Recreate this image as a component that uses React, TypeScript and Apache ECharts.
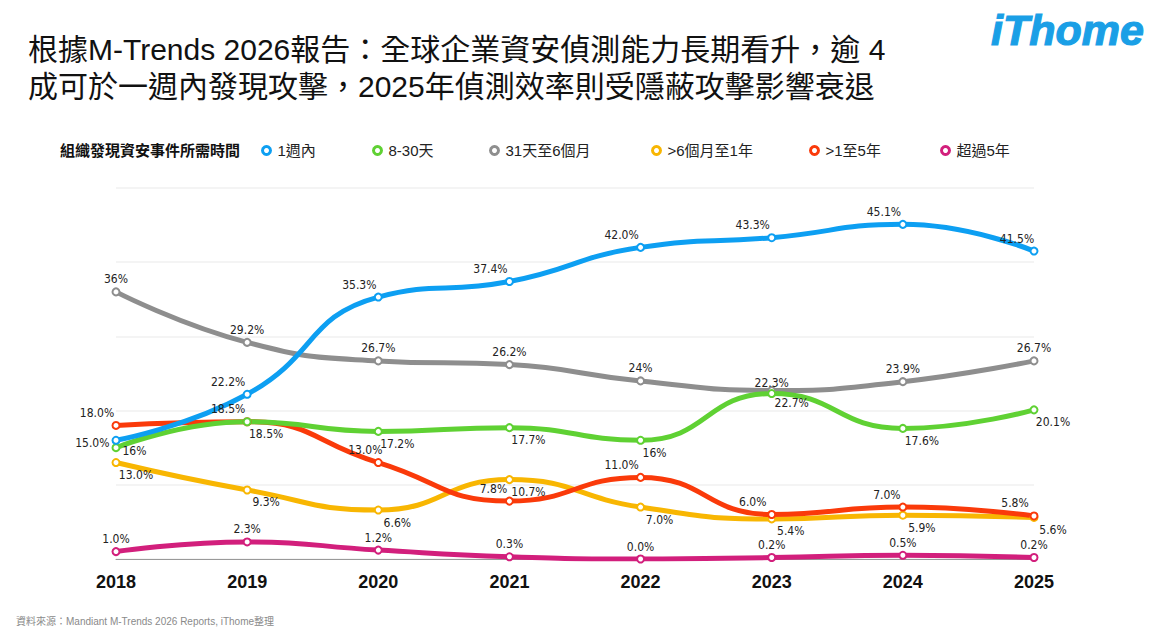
import React, { useEffect, useRef } from "react";
import * as echarts from "echarts";

const years = ["2018", "2019", "2020", "2021", "2022", "2023", "2024", "2025"];

// values as printed in the reference labels
const withinWeek = ["16", "22.2", "35.3", "37.4", "42.0", "43.3", "45.1", "41.5"];
const days8to30 = ["15.0", "18.5", "17.2", "17.7", "16", "22.3", "17.6", "20.1"];
const days31to6m = ["36", "29.2", "26.7", "26.2", "24", "22.7", "23.9", "26.7"];
const months6to1y = ["13.0", "9.3", "6.6", "10.7", "7.0", "5.4", "5.9", "5.6"];
const years1to5 = ["18.0", "18.5", "13.0", "7.8", "11.0", "6.0", "7.0", "5.8"];
const over5y = ["1.0", "2.3", "1.2", "0.3", "0.0", "0.2", "0.5", "0.2"];

const seriesNames = ["1週內", "8-30天", "31天至6個月", ">6個月至1年", ">1至5年", "超過5年"];

const titleText =
  "根據M-Trends 2026報告：全球企業資安偵測能力長期看升，逾 4\n成可於一週內發現攻擊，2025年偵測效率則受隱蔽攻擊影響衰退";
const legendTitle = "組織發現資安事件所需時間";
const sourceText = "資料來源：Mandiant M-Trends 2026 Reports, iThome整理";

const LATIN = "'Liberation Sans', Arial, 'Noto Sans CJK TC', sans-serif";
const NARROW = "'Liberation Sans Narrow', 'DejaVu Sans Condensed', 'Roboto Condensed', 'Liberation Sans', sans-serif";

type Place = { position: string; offset: number[] };
const TL: Place = { position: "top", offset: [-19, 0] };
const BR: Place = { position: "bottom", offset: [19, 0] };
const T: Place = { position: "top", offset: [0, 0] };

const defs = [
  {
    name: seriesNames[2],
    color: "#8e8e8e",
    values: days31to6m,
    place: [T, T, T, T, T, { position: "bottom", offset: [20, 0] }, T, T],
  },
  {
    name: seriesNames[5],
    color: "#d21f7c",
    values: over5y,
    place: [T, T, T, T, T, T, T, T],
  },
  {
    name: seriesNames[3],
    color: "#f8b602",
    values: months6to1y,
    place: [{ position: "bottom", offset: [20, 0] }, BR, BR, BR, BR, BR, BR, BR],
  },
  {
    name: seriesNames[4],
    color: "#fa3a0a",
    values: years1to5,
    place: [
      TL,
      TL,
      { position: "top", offset: [-13, 0] },
      { position: "top", offset: [-16, 0] },
      TL,
      TL,
      { position: "top", offset: [-16, 0] },
      TL,
    ],
  },
  {
    name: seriesNames[1],
    color: "#5fd133",
    values: days8to30,
    place: [
      { position: "left", offset: [0, -5] },
      BR,
      BR,
      BR,
      { position: "bottom", offset: [14, 0] },
      { position: "top", offset: [0, 2] },
      BR,
      BR,
    ],
  },
  {
    name: seriesNames[0],
    color: "#0d9ff2",
    values: withinWeek,
    place: [{ position: "right", offset: [0, 11] }, TL, TL, TL, TL, TL, TL, { position: "top", offset: [-17, 0] }],
  },
];

const legendOrder = [
  { name: seriesNames[0], color: "#0d9ff2", left: 261 },
  { name: seriesNames[1], color: "#5fd133", left: 372 },
  { name: seriesNames[2], color: "#8e8e8e", left: 489 },
  { name: seriesNames[3], color: "#f8b602", left: 651 },
  { name: seriesNames[4], color: "#fa3a0a", left: 809 },
  { name: seriesNames[5], color: "#d21f7c", left: 940 },
];

export default function App() {
  const ref = useRef<HTMLDivElement>(null);

  useEffect(() => {
    if (!ref.current) return;
    const chart = echarts.init(ref.current, undefined, { renderer: "svg" });

    const series = defs.map((d) => ({
      name: d.name,
      type: "line",
      smooth: 0.5,
      symbol: "circle",
      symbolSize: 7,
      showAllSymbol: true,
      lineStyle: { color: d.color, width: 5 },
      itemStyle: { color: "#ffffff", borderColor: d.color, borderWidth: 2 },
      label: {
        show: true,
        distance: 2,
        color: "#222",
        fontSize: 12,
        fontFamily: NARROW,
      },
      emphasis: { disabled: true },
      data: d.values.map((v, i) => ({
        value: Number(v),
        label: {
          position: d.place[i].position,
          offset: d.place[i].offset,
          formatter: () => v + "%",
        },
      })),
    }));

    const option = {
      animation: false,
      backgroundColor: "#ffffff",
      title: {
        text: titleText,
        left: 28,
        top: 31,
        padding: 0,
        textStyle: {
          fontSize: 30,
          lineHeight: 37,
          fontWeight: "normal",
          color: "#111",
          fontFamily: LATIN,
        },
      },
      legend: legendOrder.map((l) => ({
        show: true,
        left: l.left,
        top: 143,
        padding: 0,
        itemWidth: 8,
        itemHeight: 8,
        selectedMode: false,
        data: [
          {
            name: l.name,
            icon: "circle",
            itemStyle: { color: "#ffffff", borderColor: l.color, borderWidth: 3 },
          },
        ],
        textStyle: { fontSize: 15, color: "#222", fontFamily: LATIN, padding: [0, 0, 0, 2] },
      })),
      grid: { left: 116, right: 119, top: 188, bottom: 85, containLabel: false },
      xAxis: {
        type: "category",
        data: years,
        boundaryGap: false,
        axisLine: { show: true, lineStyle: { color: "#999", width: 1 } },
        axisTick: { show: false },
        axisLabel: {
          margin: 14,
          fontSize: 18,
          fontWeight: "bold",
          color: "#111",
          fontFamily: LATIN,
        },
        splitLine: { show: false },
      },
      yAxis: {
        type: "value",
        min: 0,
        max: 50,
        interval: 10,
        axisLine: { show: false },
        axisTick: { show: false },
        axisLabel: { show: false },
        splitLine: { show: true, lineStyle: { color: "#f1f1f1", width: 1.5 } },
      },
      graphic: [
        {
          type: "text",
          left: 60,
          top: 143,
          style: {
            text: legendTitle,
            font: "bold 15px " + LATIN,
            fill: "#111",
          },
        },
        {
          type: "text",
          x: 991,
          y: 30,
          style: {
            text: "iThome",
            font: "italic bold 43px " + LATIN,
            fill: "#1a9fe6",
            stroke: "#1a9fe6",
            lineWidth: 1.2,
            verticalAlign: "middle",
          },
        },
        {
          type: "text",
          left: 16,
          top: 616,
          style: {
            text: sourceText,
            font: "10px " + LATIN,
            fill: "#8a8a8a",
          },
        },
      ],
      series,
    };

    chart.setOption(option as any);
    return () => chart.dispose();
  }, []);

  return (
    <div
      ref={ref}
      style={{ position: "fixed", left: 0, top: 0, width: 1153, height: 644, background: "#fff" }}
    />
  );
}
